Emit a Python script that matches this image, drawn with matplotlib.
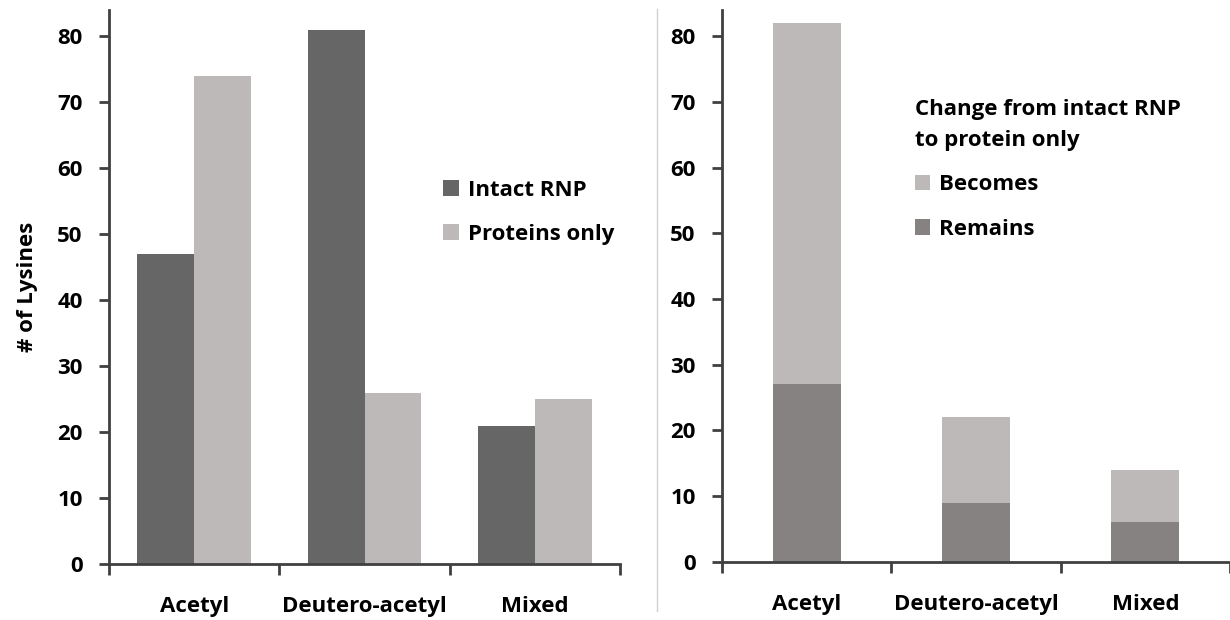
import matplotlib.pyplot as plt
import matplotlib.lines as mlines
import numpy as np

plt.rcParams['font.family'] = ['Open Sans', 'DejaVu Sans']
plt.rcParams['font.weight'] = 'bold'

categories = ['Acetyl', 'Deutero-acetyl', 'Mixed']
intact_rnp = [47, 81, 21]
proteins_only = [74, 26, 25]
remains = [27, 9, 6]
becomes = [55, 13, 8]

dark = '#666666'
light = '#bcb9b8'
mid = '#858281'
spine_col = '#404040'
fs = 16

fig = plt.figure(figsize=(12.3, 6.2), dpi=100)
fig.set_facecolor('white')
ax1 = fig.add_axes([0.0886, 0.090, 0.4155, 0.894])
ax2 = fig.add_axes([0.587, 0.094, 0.413, 0.890])

x = np.arange(len(categories))

# left: grouped bars
w = 1 / 3
ax1.bar(x - w / 2, intact_rnp, w, color=dark, label='Intact RNP')
ax1.bar(x + w / 2, proteins_only, w, color=light, label='Proteins only')

# right: stacked bars
w2 = 0.4
ax2.bar(x, remains, w2, color=mid, label='Remains')
ax2.bar(x, becomes, w2, bottom=remains, color=light, label='Becomes')

for ax in (ax1, ax2):
    ax.set_xlim(-0.5, 2.5)
    ax.set_ylim(0, 84)
    ax.set_yticks(range(0, 81, 10))
    ax.set_xticks([-0.5, 0.5, 1.5, 2.5])
    ax.set_xticklabels([])
    ax.set_xticks(x, minor=True)
    ax.set_xticklabels(categories, minor=True)
    ax.tick_params(axis='x', which='minor', length=0, pad=23, labelsize=fs)
    ax.tick_params(axis='x', which='major', length=8, width=2, color=spine_col, direction='out')
    ax.tick_params(axis='y', length=7, width=2, color=spine_col, labelsize=fs, pad=12)
    for s in ['top', 'right']:
        ax.spines[s].set_visible(False)
    for s in ['left', 'bottom']:
        ax.spines[s].set_color(spine_col)
        ax.spines[s].set_linewidth(2)
    for lbl in ax.get_yticklabels() + ax.get_xticklabels(minor=True):
        lbl.set_fontweight('bold')

ax1.set_ylabel('# of Lysines', fontsize=fs, fontweight='bold', labelpad=14)

ax1.legend(loc='upper left', bbox_to_anchor=(0.615, 0.73), frameon=False,
           fontsize=fs, handlelength=0.7, handleheight=0.7, handletextpad=0.4,
           labelspacing=1.05)

h, l = ax2.get_legend_handles_labels()
leg2 = ax2.legend(h[::-1], l[::-1], loc='upper left', bbox_to_anchor=(0.34, 0.874),
                  frameon=False, fontsize=fs, handlelength=0.7, handleheight=0.7,
                  handletextpad=0.4, labelspacing=1.05,
                  title='Change from intact RNP\nto protein only',
                  title_fontproperties={'size': fs, 'weight': 'bold'},
                  alignment='left')
leg2.get_title().set_linespacing(1.6)

# thin divider between the two panels
fig.add_artist(mlines.Line2D([657 / 1230, 657 / 1230], [0.015, 0.985],
                             color='#d0d0d0', linewidth=1))

fig.savefig('out.png', dpi=100, facecolor='white')
